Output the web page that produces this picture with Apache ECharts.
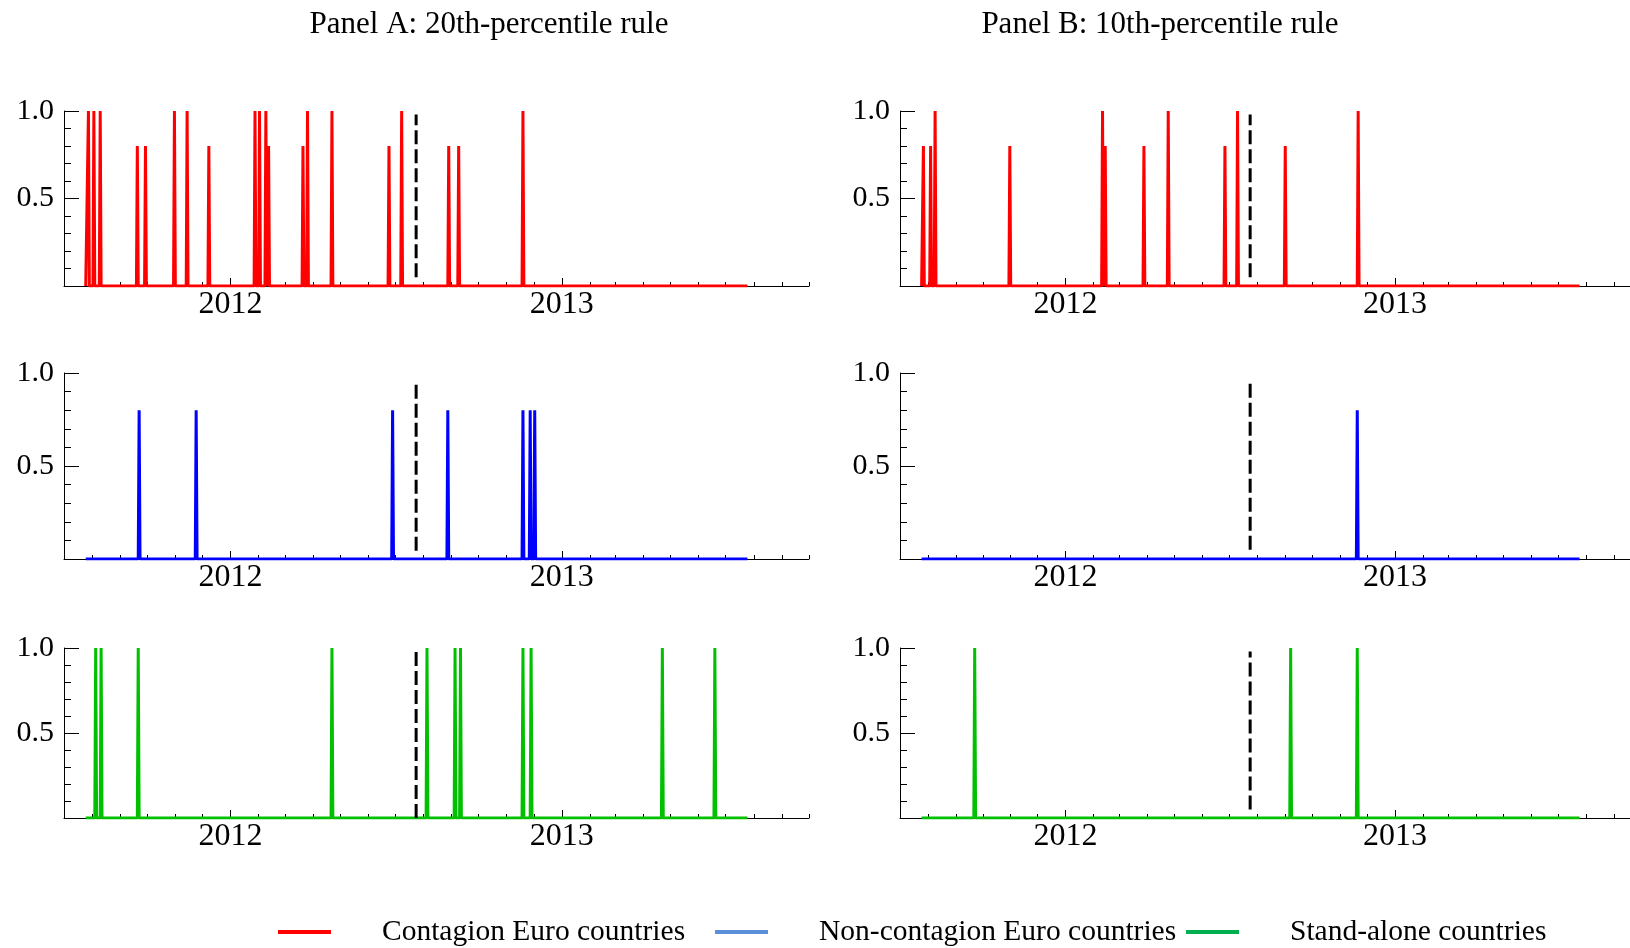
<!DOCTYPE html>
<html><head><meta charset="utf-8">
<script src="https://cdn.jsdelivr.net/npm/echarts@6/dist/echarts.min.js"></script>
<style>html,body{margin:0;padding:0;background:#fff}#c{width:1630px;height:948px}</style>
</head><body><div id="c"></div>
<script>
// ---------- data ----------
const xMin = '2011-07-01';
const xMaxA = '2013-10-01', xMaxB = '2013-09-19';
const dataStart = '2011-07-25', dataEnd = '2013-07-25';
const dashDate = '2012-07-24';
const panelTitles = ['Panel A: 20th-percentile rule', 'Panel B: 10th-percentile rule'];
const seriesNames = ['Contagion Euro countries', 'Non-contagion Euro countries', 'Stand-alone countries'];

const redA_dates = ['2011-07-28','2011-08-03','2011-08-10','2011-09-20','2011-09-29','2011-10-31','2011-11-14','2011-12-08',
  '2012-01-28','2012-02-02','2012-02-09','2012-02-12','2012-03-21','2012-03-26','2012-04-22','2012-06-24','2012-07-08',
  '2012-08-29','2012-09-09','2012-11-19'];
const redA_vals = [1,1,1,0.8,0.8,1,1,0.8,1,1,1,0.8,0.8,1,1,0.8,1,0.8,0.8,1];

const redB_dates = ['2011-07-27','2011-08-04','2011-08-09','2011-10-31','2012-02-11','2012-02-14','2012-03-28','2012-04-24',
  '2012-06-26','2012-07-10','2012-09-01','2012-11-21'];
const redB_vals = [0.8,0.8,1,0.8,1,0.8,0.8,1,0.8,1,0.8,1];

const blueA_dates = ['2011-09-22','2011-11-24','2012-06-28','2012-08-28','2012-11-19','2012-11-27','2012-12-02'];
const blueA_vals = [0.8,0.8,0.8,0.8,0.8,0.8,0.8];

const blueB_dates = ['2012-11-20'];
const blueB_vals = [0.8];

const greenA_dates = ['2011-08-05','2011-08-11','2011-09-21','2012-04-22','2012-08-05','2012-09-05','2012-09-11',
  '2012-11-19','2012-11-28','2013-04-22','2013-06-19'];
const greenA_vals = [1,1,1,1,1,1,1,1,1,1,1];

const greenB_dates = ['2011-09-22','2012-09-07','2012-11-20'];
const greenB_vals = [1,1,1];

// dashed marker extent per panel [low, high]  (order: A1,B1,A2,B2,A3,B3)
const dashLow  = [0.05, 0.05, 0.045, 0.05, 0.0, 0.05];
const dashHigh = [0.98, 0.98, 0.94, 0.955, 1.0, 0.98];

// ---------- styles / layout ----------
const FONT = 'Liberation Serif';
const lineColors = ['#ff0000', '#0000ff', '#00c000'];
const legendColors = ['#ff0000', '#5b8fd9', '#00b050'];
const legendLeft = [273, 710, 1181];
const cols = [{left: 64, width: 745, max: xMaxA}, {left: 900, width: 730, max: xMaxB}];
const rows = [{top: 111, height: 175}, {top: 373, height: 186}, {top: 648, height: 170}];
const DAY = 86400000;

function spikeSeries(dates, vals) {
  const pts = [[Date.parse(dataStart), 0]];
  dates.forEach((d, i) => {
    const t = Date.parse(d);
    pts.push([t - DAY, 0], [t, vals[i]], [t + DAY, 0]);
  });
  pts.push([Date.parse(dataEnd), 0]);
  return pts;
}

const panels = [
  [redA_dates, redA_vals, 0], [redB_dates, redB_vals, 0],
  [blueA_dates, blueA_vals, 1], [blueB_dates, blueB_vals, 1],
  [greenA_dates, greenA_vals, 2], [greenB_dates, greenB_vals, 2]
];

const grid = [], xAxis = [], yAxis = [], series = [];
panels.forEach((p, g) => {
  const r = Math.floor(g / 2), c = g % 2;
  grid.push({left: cols[c].left, width: cols[c].width, top: rows[r].top, height: rows[r].height, containLabel: false});
  // main axis: yearly ticks + labels
  xAxis.push({
    type: 'time', gridIndex: g, position: 'bottom', min: xMin, max: cols[c].max,
    minInterval: 365 * DAY, maxInterval: 366 * DAY,
    axisLine: {show: true, lineStyle: {color: '#000', width: 1}},
    axisTick: {show: true, inside: true, length: 8, lineStyle: {color: '#000'}},
    splitLine: {show: false},
    axisLabel: {
      show: true, margin: 3, color: '#000', fontFamily: FONT, fontSize: 32,
      showMinLabel: false, showMaxLabel: false, hideOverlap: false,
      formatter: function (v) {
        const d = new Date(v);
        return (d.getUTCMonth() === 0 && d.getUTCDate() === 1) ? String(d.getUTCFullYear()) : '';
      }
    }
  });
  // secondary axis: monthly minor ticks
  xAxis.push({
    type: 'time', gridIndex: g, position: 'bottom', min: xMin, max: cols[c].max,
    minInterval: 31 * DAY, maxInterval: 31 * DAY,
    axisLine: {show: false},
    axisTick: {show: true, inside: true, length: 4, lineStyle: {color: '#000'}},
    splitLine: {show: false},
    axisLabel: {show: false}
  });
  yAxis.push({
    type: 'value', gridIndex: g, position: 'left', min: 0, max: 1, interval: 0.5,
    axisLine: {show: true, lineStyle: {color: '#000', width: 1}},
    axisTick: {show: true, inside: true, length: 15, lineStyle: {color: '#000'}},
    minorTick: {show: true, splitNumber: 5, length: 7, lineStyle: {color: '#000'}},
    splitLine: {show: false},
    axisLabel: {
      margin: 10, color: '#000', fontFamily: FONT, fontSize: 30,
      formatter: v => (v === 0 ? '' : v.toFixed(1))
    }
  });
  series.push({
    name: seriesNames[p[2]], type: 'line', xAxisIndex: 2 * g, yAxisIndex: g,
    data: spikeSeries(p[0], p[1]), symbol: 'none', showSymbol: false,
    lineStyle: {color: lineColors[p[2]], width: 3}, itemStyle: {color: lineColors[p[2]]},
    z: 3, silent: true
  });
  series.push({
    name: 'marker', type: 'line', xAxisIndex: 2 * g, yAxisIndex: g,
    data: [[Date.parse(dashDate), dashLow[g]], [Date.parse(dashDate), dashHigh[g]]],
    symbol: 'none', lineStyle: {color: '#000', width: 3, type: [14, 5]}, z: 4, silent: true
  });
});

const option = {
  useUTC: true,
  animation: false,
  backgroundColor: '#fff',
  textStyle: {fontFamily: FONT},
  title: panelTitles.map((t, i) => ({
    text: t, left: [484, 1155][i], top: 4, textAlign: 'center',
    textStyle: {fontFamily: FONT, fontSize: 31, fontWeight: 'normal', color: '#000'}
  })),
  legend: seriesNames.map((n, i) => ({
    data: [{name: n, itemStyle: {color: legendColors[i]}}],
    left: legendLeft[i], top: 912, icon: 'rect', itemWidth: 53, itemHeight: 4,
    selectedMode: false,
    textStyle: {fontFamily: FONT, fontSize: 29.5, color: '#000', padding: [0, 0, 0, 46]}
  })),
  grid, xAxis, yAxis, series
};

const chart = echarts.init(document.getElementById('c'), null, {renderer: 'canvas'});
chart.setOption(option);
</script></body></html>
